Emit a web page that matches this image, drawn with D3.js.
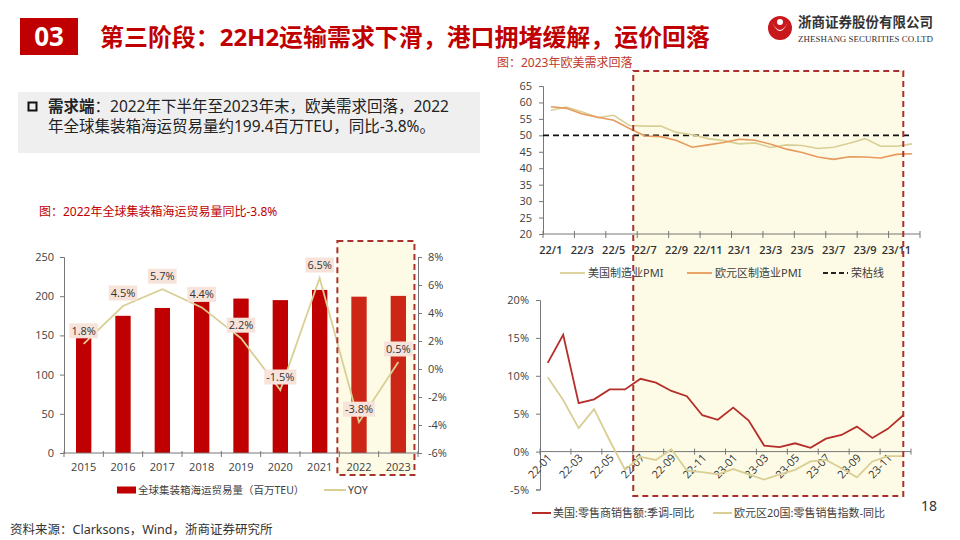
<!DOCTYPE html>
<html><head><meta charset="utf-8">
<script src="https://cdn.jsdelivr.net/npm/d3@7"></script>
<style>
body{margin:0;background:#fff}
svg{display:block}
text{font-family:"Noto Sans","Noto Sans CJK SC",sans-serif}
</style>
</head><body>
<svg id="c" width="960" height="540"></svg>
<script>
// ---------- data ----------
const years = ["2015","2016","2017","2018","2019","2020","2021","2022","2023"];
const tradeVolume = [163,175,185,194,197,195,208,199.4,200.4];
const tradeYoy = [1.8,4.5,5.7,4.4,2.2,-1.5,6.5,-3.8,0.5];
const volTicks = [0,50,100,150,200,250];
const yoyTicks = [-6,-4,-2,0,2,4,6,8];

const pmiMonths = ["22/1","22/2","22/3","22/4","22/5","22/6","22/7","22/8","22/9","22/10","22/11","22/12",
                   "23/1","23/2","23/3","23/4","23/5","23/6","23/7","23/8","23/9","23/10","23/11","23/12"];
const usPMI = [57.6,58.6,57.1,55.4,56.1,53.0,52.8,52.8,50.9,50.2,49.0,48.4,47.4,47.7,46.3,47.1,46.9,46.0,46.4,47.6,49.0,46.7,46.7,47.4];
const euPMI = [58.7,58.2,56.5,55.5,54.6,52.1,49.8,49.6,48.4,46.4,47.1,47.8,48.8,48.5,47.3,45.8,44.8,43.4,42.7,43.5,43.4,43.1,44.2,44.4];
const pmiTicks = [20,25,30,35,40,45,50,55,60,65];
const boomLine = 50;

const retailMonths = ["22-01","22-02","22-03","22-04","22-05","22-06","22-07","22-08","22-09","22-10","22-11","22-12",
                      "23-01","23-02","23-03","23-04","23-05","23-06","23-07","23-08","23-09","23-10","23-11","23-12"];
const usRetail = [11.7,15.4,6.4,6.9,8.2,8.2,9.6,9.1,8.0,7.3,4.8,4.2,5.8,4.1,0.8,0.6,1.1,0.5,1.7,2.2,3.3,1.8,3.0,4.8];
const euRetail = [9.8,6.8,3.1,5.6,1.5,-2.4,-0.7,-1.1,0.3,-2.5,-2.7,-3.0,-2.3,-3.0,-3.7,-3.0,-2.4,-1.3,-1.1,-2.2,-3.4,-1.3,-0.6,-0.6];
const retailTicks = [-5,0,5,10,15,20];

// ---------- styles ----------
const RED = "#c00000", BOXRED = "#a8322d", KHAKI = "#d9cf95", ORANGE = "#e79a5c", DARKRED = "#b52e2a";
const TXT = "#404040";
const svg = d3.select("#c");

// ---------- header ----------
svg.append("rect").attr("x",20).attr("y",18).attr("width",58).attr("height",37).attr("fill",RED);
svg.append("text").attr("x",49).attr("y",37).attr("dy","0.36em").attr("text-anchor","middle")
  .attr("fill","#fff").attr("font-size",26).attr("font-weight","bold").text("03");
svg.append("text").attr("x",100).attr("y",37).attr("dy","0.36em").attr("fill",RED)
  .attr("font-size",24).attr("font-weight","bold")
  .attr("textLength",610).attr("lengthAdjust","spacingAndGlyphs")
  .text("第三阶段：22H2运输需求下滑，港口拥堵缓解，运价回落");
// logo
const logo = svg.append("g");
logo.append("circle").attr("cx",780).attr("cy",28).attr("r",12).attr("fill","#c9171e");
logo.append("path").attr("d","M772,22 Q780,40 788,22 Q784,30 780,30 Q776,30 772,22 Z").attr("fill","#fff");
logo.append("circle").attr("cx",780).attr("cy",22).attr("r",3).attr("fill","#fff");
logo.append("text").attr("x",798).attr("y",22).attr("dy","0.36em").attr("fill","#333")
  .attr("font-size",14).attr("font-weight","bold").attr("textLength",135).attr("lengthAdjust","spacingAndGlyphs")
  .text("浙商证券股份有限公司");
logo.append("text").attr("x",798).attr("y",38.5).attr("dy","0.36em").attr("fill","#333")
  .style("font-family","'Liberation Serif',serif").attr("font-size",8.5)
  .attr("textLength",135).attr("lengthAdjust","spacingAndGlyphs").text("ZHESHANG SECURITIES CO.LTD");

// ---------- text box ----------
svg.append("rect").attr("x",18).attr("y",92).attr("width",462).attr("height",61).attr("fill","#efefef");
svg.append("rect").attr("x",28.5).attr("y",102.5).attr("width",8).attr("height",8).attr("fill","none")
  .attr("stroke","#111").attr("stroke-width",2);
const l1 = svg.append("text").attr("x",48).attr("y",106.5).attr("dy","0.36em").attr("font-size",15.5).attr("fill","#222");
l1.append("tspan").attr("font-weight","bold").text("需求端");
l1.append("tspan").text("：2022年下半年至2023年末，欧美需求回落，2022");
svg.append("text").attr("x",48).attr("y",126.5).attr("dy","0.36em").attr("font-size",15.5).attr("fill","#222")
  .text("年全球集装箱海运贸易量约199.4百万TEU，同比-3.8%。");

// ---------- left chart ----------
svg.append("text").attr("x",39).attr("y",212).attr("dy","0.36em").attr("font-size",12).attr("fill",RED)
  .text("图：2022年全球集装箱海运贸易量同比-3.8%");

const L = {x0:64, x1:418, yTop:257, yBot:453};
const xB = d3.scaleBand().domain(years).range([L.x0,L.x1]).paddingInner(0.61).paddingOuter(0.305);
const xc = d => xB(d) + xB.bandwidth()/2;
const yV = d3.scaleLinear().domain([0,250]).range([L.yBot,L.yTop]);
const yY = d3.scaleLinear().domain([-6,8]).range([L.yBot,L.yTop]);
const step = xB.step();
const hlL = xc("2022") - 0.55*step, hlR = xc("2023") + 0.41*step;

svg.append("rect").attr("x",hlL).attr("y",L.yTop-16).attr("width",hlR-hlL).attr("height",(L.yBot+22)-(L.yTop-16))
  .attr("fill","#fdfbe6");

svg.append("g").selectAll("rect").data(years).join("rect")
  .attr("x",d=>xB(d)).attr("width",xB.bandwidth())
  .attr("y",(d,i)=>yV(tradeVolume[i])).attr("height",(d,i)=>yV(0)-yV(tradeVolume[i]))
  .attr("fill",(d,i)=> i>=7 ? "#cb2616" : RED);

const gl = svg.append("g").attr("transform",`translate(${L.x0},0)`)
  .call(d3.axisLeft(yV).tickValues(volTicks).tickSize(4).tickPadding(6));
const gr = svg.append("g").attr("transform",`translate(${L.x1},0)`)
  .call(d3.axisRight(yY).tickValues(yoyTicks).tickFormat(d=>d+"%").tickSize(4).tickPadding(6));
const gb = svg.append("g").attr("transform",`translate(0,${L.yBot})`)
  .call(d3.axisBottom(xB).tickSize(0).tickPadding(10));
gb.select(".domain").attr("d",`M${L.x0},0H${L.x1}`);
[gl,gr,gb].forEach(g=>{
  g.select(".domain").attr("stroke","#777").attr("stroke-width",1);
  g.selectAll(".tick line").attr("stroke","#777");
  g.selectAll("text").attr("font-size",11).attr("fill",TXT).style("font-family","'Open Sans','Noto Sans',sans-serif");
});
svg.append("g").selectAll("line").data(d3.range(years.length+1)).join("line")
  .attr("x1",i=>L.x0+i*step).attr("x2",i=>L.x0+i*step).attr("y1",L.yBot-2).attr("y2",L.yBot+4)
  .attr("stroke","#777");

svg.append("path").datum(tradeYoy)
  .attr("d",d3.line().x((d,i)=>xc(years[i])).y(d=>yY(d)))
  .attr("fill","none").attr("stroke",KHAKI).attr("stroke-width",1.8);

const lab = svg.append("g").selectAll("g").data(tradeYoy).join("g")
  .attr("transform",(d,i)=>`translate(${xc(years[i])},${yY(d)-13})`);
lab.append("rect").attr("fill","#f7e3da");
lab.append("text").attr("text-anchor","middle").attr("dy","0.36em").attr("font-size",11).attr("fill","#333")
  .style("font-family","'Open Sans','Noto Sans',sans-serif")
  .text(d=>d.toFixed(1)+"%");
lab.each(function(){
  const g=d3.select(this), bb=g.select("text").node().getBBox();
  g.select("rect").attr("x",bb.x-2).attr("y",-7.5).attr("width",bb.width+4).attr("height",15);
});

svg.append("rect").attr("x",hlL).attr("y",L.yTop-16).attr("width",hlR-hlL).attr("height",(L.yBot+22)-(L.yTop-16))
  .attr("fill","none").attr("stroke",BOXRED).attr("stroke-width",2).attr("stroke-dasharray","6,4");

svg.append("rect").attr("x",117).attr("y",486.5).attr("width",19).attr("height",7).attr("fill",RED);
svg.append("text").attr("x",138).attr("y",490).attr("dy","0.36em").attr("font-size",10.5).attr("fill",TXT)
  .text("全球集装箱海运贸易量（百万TEU）");
svg.append("line").attr("x1",324).attr("x2",346).attr("y1",490).attr("y2",490).attr("stroke",KHAKI).attr("stroke-width",2);
svg.append("text").attr("x",348).attr("y",490).attr("dy","0.36em").attr("font-size",10.5).attr("fill",TXT).text("YOY");

svg.append("text").attr("x",10).attr("y",529).attr("dy","0.36em").attr("font-size",12.5).attr("fill","#333")
  .text("资料来源：Clarksons，Wind，浙商证券研究所");
svg.append("text").attr("x",921).attr("y",506).attr("dy","0.36em").attr("font-size",14).attr("fill","#333").text("18");

// ---------- right top: PMI ----------
svg.append("text").attr("x",497).attr("y",63).attr("dy","0.36em").attr("font-size",12).attr("fill","#c0392b")
  .text("图：2023年欧美需求回落");

const P = {x0:543, x1:920, yTop:86, yBot:234};
const xP = d3.scaleBand().domain(pmiMonths).range([P.x0,P.x1]);
const xpc = d => xP(d) + xP.bandwidth()/2;
const yP = d3.scaleLinear().domain([20,65]).range([P.yBot,P.yTop]);

const bxL = xP("22/7") - 4, bxR = xP("23/12") - 1, bxT = 71, bxB = 496;
svg.append("rect").attr("x",bxL).attr("y",bxT).attr("width",bxR-bxL).attr("height",bxB-bxT).attr("fill","#fdfbe6");

const pl = svg.append("g").attr("transform",`translate(${P.x0},0)`)
  .call(d3.axisLeft(yP).tickValues(pmiTicks).tickSize(4).tickPadding(7));
pl.select(".domain").attr("stroke","#777");
pl.selectAll(".tick line").attr("stroke","#777");
pl.selectAll("text").attr("font-size",11).attr("fill",TXT).style("font-family","'Open Sans','Noto Sans',sans-serif");

svg.append("line").attr("x1",P.x0).attr("x2",P.x1).attr("y1",P.yBot).attr("y2",P.yBot).attr("stroke","#777");
const pTickIdx = d3.range(0,pmiMonths.length+1,2);
svg.append("g").selectAll("line").data(pTickIdx).join("line")
  .attr("x1",i=>P.x0+i*xP.step()).attr("x2",i=>P.x0+i*xP.step()).attr("y1",P.yBot-3).attr("y2",P.yBot+4).attr("stroke","#777");
svg.append("g").selectAll("text").data(pmiMonths.filter((d,i)=>i%2===0)).join("text")
  .attr("x",d=>xpc(d)).attr("y",250).attr("dy","0.36em").attr("text-anchor","middle")
  .attr("font-size",11).attr("fill","#333").attr("font-weight","600")
  .style("font-family","'Open Sans','Noto Sans',sans-serif").text(d=>d);

svg.append("line").attr("x1",P.x0).attr("x2",xpc("23/12")).attr("y1",yP(boomLine)).attr("y2",yP(boomLine))
  .attr("stroke","#111").attr("stroke-width",1.8).attr("stroke-dasharray","6,4");
const pmiLine = d3.line().x((d,i)=>xpc(pmiMonths[i])).y(d=>yP(d));
svg.append("path").datum(usPMI).attr("d",pmiLine).attr("fill","none").attr("stroke",KHAKI).attr("stroke-width",1.6);
svg.append("path").datum(euPMI).attr("d",pmiLine).attr("fill","none").attr("stroke",ORANGE).attr("stroke-width",1.6);

const pLeg = [{x:560,t:"美国制造业PMI",c:KHAKI,dash:null},{x:687,t:"欧元区制造业PMI",c:ORANGE,dash:null},{x:823,t:"荣枯线",c:"#222",dash:"5,3"}];
pLeg.forEach(o=>{
  svg.append("line").attr("x1",o.x).attr("x2",o.x+25).attr("y1",273).attr("y2",273).attr("stroke",o.c)
    .attr("stroke-width",o.dash?2:1.8).attr("stroke-dasharray",o.dash);
  svg.append("text").attr("x",o.x+28).attr("y",273).attr("dy","0.36em").attr("font-size",11).attr("fill",TXT).text(o.t);
});

// ---------- right bottom: retail ----------
const R = {x0:540, x1:911, yTop:300, yBot:489.5};
const xR = d3.scaleBand().domain(retailMonths).range([R.x0,R.x1]);
const xrc = d => xR(d) + xR.bandwidth()/2;
const yRt = d3.scaleLinear().domain([-5,20]).range([R.yBot,R.yTop]);

const rl = svg.append("g").attr("transform",`translate(${R.x0},0)`)
  .call(d3.axisLeft(yRt).tickValues(retailTicks).tickFormat(d=>d+"%").tickSize(4).tickPadding(7));
rl.select(".domain").attr("stroke","#777");
rl.selectAll(".tick line").attr("stroke","#777");
rl.selectAll("text").attr("font-size",11).attr("fill",TXT).style("font-family","'Open Sans','Noto Sans',sans-serif");

const y0 = yRt(0);
svg.append("line").attr("x1",R.x0).attr("x2",R.x1).attr("y1",y0).attr("y2",y0).attr("stroke","#777");
svg.append("g").selectAll("line").data(d3.range(0,retailMonths.length+1,2)).join("line")
  .attr("x1",i=>R.x0+i*xR.step()).attr("x2",i=>R.x0+i*xR.step()).attr("y1",y0-3).attr("y2",y0+3).attr("stroke","#777");
svg.append("g").selectAll("text").data(retailMonths.filter((d,i)=>i%2===0)).join("text")
  .attr("transform",d=>`translate(${xrc(d)+2},${y0+4}) rotate(-47)`)
  .attr("text-anchor","end").attr("dy","0.36em").attr("font-size",11).attr("fill","#333")
  .style("font-family","'Open Sans','Noto Sans',sans-serif").text(d=>d);

const rLine = d3.line().x((d,i)=>xrc(retailMonths[i])).y(d=>yRt(d));
svg.append("path").datum(euRetail).attr("d",rLine).attr("fill","none").attr("stroke",KHAKI).attr("stroke-width",1.8);
svg.append("path").datum(usRetail).attr("d",rLine).attr("fill","none").attr("stroke",DARKRED).attr("stroke-width",1.8);

const rLeg = [{x:532,t:"美国:零售商销售额:季调-同比",c:DARKRED},{x:713,t:"欧元区20国:零售销售指数-同比",c:KHAKI}];
rLeg.forEach(o=>{
  svg.append("line").attr("x1",o.x).attr("x2",o.x+19).attr("y1",513).attr("y2",513).attr("stroke",o.c).attr("stroke-width",2);
  svg.append("text").attr("x",o.x+21).attr("y",513).attr("dy","0.36em").attr("font-size",11).attr("fill",TXT).text(o.t);
});

svg.append("rect").attr("x",bxL).attr("y",bxT).attr("width",bxR-bxL).attr("height",bxB-bxT)
  .attr("fill","none").attr("stroke",BOXRED).attr("stroke-width",2).attr("stroke-dasharray","6,4");
</script>
</body></html>
